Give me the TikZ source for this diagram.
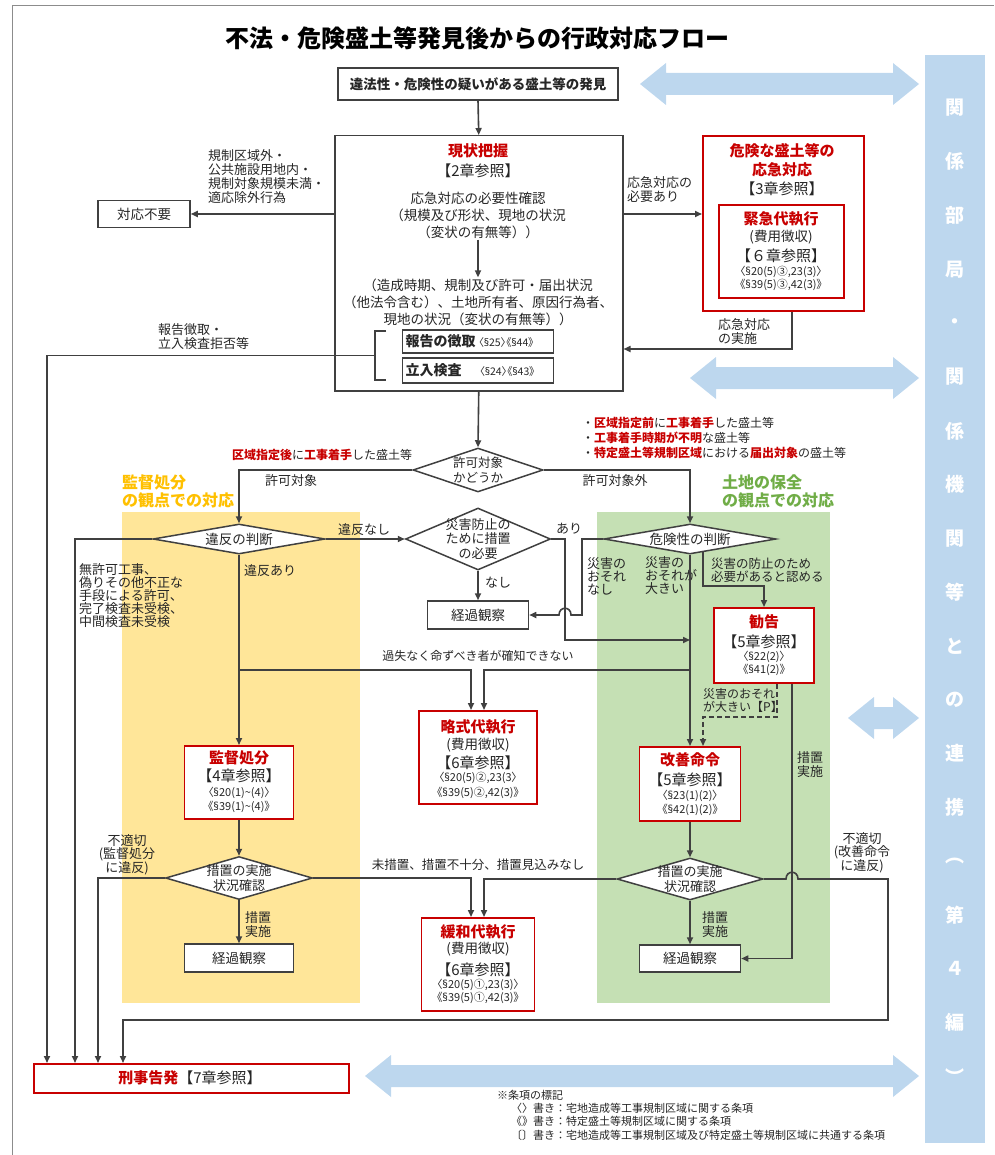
\documentclass[tikz,border=0pt]{standalone}
\usepackage{fontspec}
\setmainfont{Noto Sans CJK JP}
\newfontfamily\latf{Noto Sans}
\usetikzlibrary{shapes.geometric,arrows.meta}
\definecolor{linec}{RGB}{64,64,64}
\definecolor{txtc}{RGB}{38,38,38}
\definecolor{redc}{RGB}{200,0,0}
\definecolor{yelband}{RGB}{255,230,153}
\definecolor{yeltext}{RGB}{255,192,0}
\definecolor{grnband}{RGB}{197,224,180}
\definecolor{grntext}{RGB}{112,173,71}
\definecolor{bluec}{RGB}{189,215,238}
\newcommand{\myfz}[2]{\fontsize{#1}{#2}\selectfont}
\newcommand{\myrb}[1]{\textcolor{redc}{\bfseries #1}}
\newcommand{\sg}{{\latf §}}
\begin{document}
\begin{tikzpicture}[x=1pt,y=-1pt,
  every node/.style={text=txtc, inner sep=1pt},
  ln/.style={draw=linec, line width=1.6pt},
  arr/.style={ln, -{Triangle[length=7pt,width=6pt]}},
  box/.style={draw=linec, line width=1.5pt, fill=white, inner sep=0pt, align=center},
  rbox/.style={draw=redc, line width=1.8pt, fill=white, inner sep=0pt},
  dia/.style={diamond, draw=linec, line width=1.5pt, fill=white, inner sep=0pt},
  t11/.style={font=\myfz{11}{12.5}},
  sec/.style={font=\myfz{11}{12.5}\addfontfeatures{RawFeature=+palt}},
  t12/.style={font=\myfz{12}{13.5}},
  t13/.style={font=\myfz{13}{14}},
  t135/.style={font=\myfz{13.5}{17}},
  t15/.style={font=\myfz{15}{18}},
  rt/.style={font=\bfseries\myfz{15}{18}, text=redc},
  ml/.style={align=left, anchor=west, inner sep=0pt},
  mc/.style={align=center},
]
\useasboundingbox (0,0) rectangle (994,1155);
\draw[black!45, line width=0.8pt] (12,1155) -- (12,5) -- (994,5);

% bands
\fill[yelband] (122,512) rectangle (360,1003);
\fill[grnband] (597,512) rectangle (830,1003);

% right bar and blue arrows
\fill[bluec] (925,55) rectangle (985,1143);
\foreach \xa/\ya in {640/84, 690/378, 848/718, 365/1076} {
  \fill[bluec] (\xa,\ya) -- ({\xa+26},{\ya-21}) -- ({\xa+26},{\ya-11}) -- (893,{\ya-11}) -- (893,{\ya-21})
    -- (919,\ya) -- (893,{\ya+21}) -- (893,{\ya+11}) -- ({\xa+26},{\ya+11}) -- ({\xa+26},{\ya+21}) -- cycle;
}
\foreach \c [count=\i from 0] in {関,係,部,局,・,関,係,機,関,等,と,の,連,携,︵,第,４,編,︶}
  \node[font=\bfseries\myfz{19}{20}, text=white] (bar\i) at (955,{108+\i*53.8}) {\c};

% title
\node[font=\bfseries\myfz{24}{28}, text=black] (title) at (477,38) {不法・危険盛土等発見後からの行政対応フロー};

% top
\node[box, minimum width=280pt, minimum height=32pt, font=\bfseries\myfz{13.5}{16}] (disc) at (478,84) {違法性・危険性の疑いがある盛土等の発見};

% main box
\node[box, minimum width=288pt, minimum height=255pt, anchor=north west] (main) at (334,135) {};
\node[rt] (m1) at (478,151) {現状把握};
\node[t15] (m2) at (478,171) {【2章参照】};
\node[t135, mc] (m3) at (478,215) {応急対応の必要性確認\\（規模及び形状、現地の状況\\（変状の有無等））};
\node[t135, mc] (m4) at (478,302) {（造成時期、規制及び許可・届出状況\\（他法令含む）、土地所有者、原因行為者、\\現地の状況（変状の有無等））};
\node[box, minimum width=151pt, minimum height=23pt, text width=145pt, align=left] (rep) at (478,341.5) {\mbox{\bfseries\myfz{14}{16}報告の徴取\hspace{3pt}{\mdseries\myfz{10.5}{12}\addfontfeatures{RawFeature=+palt}〈\sg25〉《\sg44》}}};
\node[box, minimum width=151pt, minimum height=25pt, text width=145pt, align=left] (insp) at (478,370.5) {\mbox{\bfseries\myfz{14}{16}立入検査\hspace{18pt}{\mdseries\myfz{10.5}{12}\addfontfeatures{RawFeature=+palt}〈\sg24〉《\sg43》}}};
\coordinate (brk) at (375,355.5);

% no need
\node[box, minimum width=92pt, minimum height=27pt, t135] (noneed) at (144,214) {対応不要};
\node[t13, ml] (l2) at (208,177) {規制区域外・\\公共施設用地内・\\規制対象規模未満・\\適応除外行為};
\node[t13, ml] (l1) at (158,337) {報告徴取・\\立入検査拒否等};

% emergency
\node[rbox, minimum width=161pt, minimum height=175pt, anchor=north west] (emerg) at (702,135) {};
\node[rt] (e1) at (782,151) {危険な盛土等の};
\node[rt] (e2) at (782,170) {応急対応};
\node[t15] (e3) at (782,189) {【3章参照】};
\node[rbox, minimum width=125pt, minimum height=93pt, anchor=north west] (exec) at (718,204) {};
\node[rt] (x1) at (781,219) {緊急代執行};
\node[t135] (x2) at (781,237) {(費用徴収)};
\node[t15] (x3) at (781,256) {【６章参照】};
\node[sec] (x4) at (781,272) {〈\sg20(5)③,23(3)〉};
\node[sec] (x5) at (781,285) {《\sg39(5)③,42(3)》};
\node[t13, ml] (l3) at (627,190) {応急対応の\\必要あり};
\node[t13, ml] (l4) at (718,332) {応急対応\\の実施};

% band labels
\node[font=\bfseries\myfz{16}{18}, text=yeltext, ml] (yl) at (122,491) {監督処分\\の観点での対応};
\node[font=\bfseries\myfz{16}{18}, text=grntext, ml] (gl) at (722,491) {土地の保全\\の観点での対応};

% first diamond
\node[dia, minimum width=130pt, minimum height=44pt] (d1) at (478,470) {};
\node[font=\myfz{12.5}{15}, mc] (d1t) at (478,470) {許可対象\\かどうか};
\node[t13] (l5) at (291,481) {許可対象};
\node[t13] (l6) at (615,481) {許可対象外};
\node[t12] (l7) at (322,455) {\myrb{区域指定後}に\myrb{工事着手}した盛土等};
\node[ml, font=\myfz{12}{15}] (l8) at (582,438) {・\myrb{区域指定前}に\myrb{工事着手}した盛土等\\・\myrb{工事着手時期が不明}な盛土等\\・\myrb{特定盛土等規制区域}における\myrb{届出対象}の盛土等};

% second row diamonds
\node[dia, minimum width=172pt, minimum height=30pt] (vio) at (239,539) {};
\node[t135] (viot) at (239,539) {違反の判断};
\node[dia, minimum width=145pt, minimum height=62pt] (dp) at (478,539) {};
\node[font=\myfz{13}{14.5}, mc] (dpt) at (478,539) {災害防止の\\ために措置\\の必要};
\node[dia, minimum width=172pt, minimum height=30pt] (dan) at (690,539) {};
\node[t135] (dant) at (690,539) {危険性の判断};

\node[ml, font=\myfz{13}{13}] (l9) at (79,596) {無許可工事、\\偽りその他不正な\\手段による許可、\\完了検査未受検、\\中間検査未受検};
\node[t13] (l10) at (364,530) {違反なし};
\node[t13, ml] (l11) at (244,571) {違反あり};
\node[t13, ml] (l13) at (556,529) {あり};
\node[t13, ml] (l14) at (485,583) {なし};
\node[box, minimum width=101pt, minimum height=28pt, t135] (ke1) at (478,615) {経過観察};
\node[ml, font=\myfz{13}{13}] (l15) at (587,576) {災害の\\おそれ\\なし};
\node[ml, font=\myfz{13}{13}] (l16) at (645,576) {災害の\\おそれが\\大きい};
\node[ml, font=\myfz{12.5}{13}] (l17) at (711,570) {災害の防止のため\\必要があると認める};
\node[t12] (l12) at (478,656) {過失なく命ずべき者が確知できない};

% kankoku
\node[rbox, minimum width=100pt, minimum height=75pt, anchor=north] (kan) at (764,607) {};
\node[rt] (k1) at (764,622) {勧告};
\node[t15] (k2) at (764,642) {【5章参照】};
\node[sec] (k3) at (764,657) {〈\sg22(2)〉};
\node[sec] (k4) at (764,670) {《\sg41(2)》};
\node[ml, font=\myfz{12}{13}] (l18) at (703,700) {災害のおそれ\\が大きい【P】};
\node[t13, ml] (l19) at (797,765) {措置\\実施};

% ryaku
\node[rbox, minimum width=118pt, minimum height=93pt, anchor=north] (ryaku) at (478,710) {};
\node[rt] (r1) at (478,727) {略式代執行};
\node[t135] (r2) at (478,745) {(費用徴収)};
\node[t15] (r3) at (478,763) {【6章参照】};
\node[sec] (r4) at (478,778) {〈\sg20(5)②,23(3〉};
\node[sec] (r5) at (478,793) {《\sg39(5)②,42(3)》};

% supervise
\node[rbox, minimum width=109pt, minimum height=73pt, anchor=north] (sup) at (239,745) {};
\node[rt] (s1) at (239,758) {監督処分};
\node[t15] (s2) at (239,776) {【4章参照】};
\node[sec] (s3) at (239,793) {〈\sg20(1)\textasciitilde(4)〉};
\node[sec] (s4) at (239,807) {《\sg39(1)\textasciitilde(4)》};

% kaizen
\node[rbox, minimum width=101pt, minimum height=74pt, anchor=north] (kai) at (690,746) {};
\node[rt] (v1) at (690,760) {改善命令};
\node[t15] (v2) at (690,780) {【5章参照】};
\node[sec] (v3) at (690,796) {〈\sg23(1)(2)〉};
\node[sec] (v4) at (690,810) {《\sg42(1)(2)》};

% check diamonds
\node[dia, minimum width=147pt, minimum height=43pt] (chk1) at (239,878) {};
\node[font=\myfz{13}{14.5}, mc] (chk1t) at (239,878) {措置の実施\\状況確認};
\node[dia, minimum width=146pt, minimum height=42pt] (chk2) at (690,879) {};
\node[font=\myfz{13}{14.5}, mc] (chk2t) at (690,879) {措置の実施\\状況確認};
\node[font=\myfz{13}{13}, mc] (l20) at (127,855) {不適切\\(監督処分\\に違反)};
\node[font=\myfz{13}{13}, mc] (l23) at (862,853) {不適切\\(改善命令\\に違反)};
\node[font=\myfz{12.5}{14}] (l21) at (478,865) {未措置、措置不十分、措置見込みなし};
\node[ml, font=\myfz{13}{14}] (l22) at (245,925) {措置\\実施};
\node[ml, font=\myfz{13}{14}] (l24) at (702,925) {措置\\実施};
\node[box, minimum width=109pt, minimum height=28pt, t135] (ke2) at (239,958) {経過観察};
\node[box, minimum width=101pt, minimum height=27pt, t135] (ke3) at (690,958.5) {経過観察};

% kanwa
\node[rbox, minimum width=113pt, minimum height=93pt, anchor=north] (kanwa) at (478,917) {};
\node[rt] (w1) at (478,932) {緩和代執行};
\node[t135] (w2) at (478,949) {(費用徴収)};
\node[t15] (w3) at (478,970) {【6章参照】};
\node[sec] (w4) at (478,985) {〈\sg20(5)①,23(3)〉};
\node[sec] (w5) at (478,998) {《\sg39(5)①,42(3)》};

% criminal
\node[rbox, minimum width=315pt, minimum height=29pt, anchor=north west] (crim) at (33,1063) {};
\node[t15] (crimt) at (190,1077.5) {\myrb{刑事告発}【7章参照】};

% notes
\node[t11, ml] (n0) at (497,1095) {※条項の標記};
\node[t11, ml] (n1) at (511,1108) {〈〉書き：宅地造成等工事規制区域に関する条項};
\node[t11, ml] (n2) at (511,1121) {《》書き：特定盛土等規制区域に関する条項};
\node[t11, ml] (n3) at (511,1135) {〔〕書き：宅地造成等工事規制区域及び特定盛土等規制区域に共通する条項};

% coordinates
\coordinate (j1) at (239,670);
\coordinate (j2) at (690,670);
\coordinate (j3) at (690,640);
\coordinate (j4) at (703,551);

% connectors
\draw[arr] (disc.south) -- (main.north);
\draw[arr] (m3.south) -- (m4.north);
\draw[ln] (386,331) -- (375,331) -- (375,380) -- (386,380);
\draw[arr] (brk) -| ([xshift=14pt]crim.north west);
\draw[arr] (noneed.east -| main.west) -- (noneed.east);
\draw[arr] ([yshift=-79pt]main.north east) -- ([yshift=-79pt]emerg.north west);
\draw[arr] ([xshift=90pt]emerg.south west) |- ([yshift=-214pt]main.north east);
\draw[arr] (main.south) -- (d1.north);
\draw[arr] (d1.west) -| (vio.north);
\draw[arr] (d1.east) -| (dan.north);
\draw[arr] (vio.west) -| ([xshift=42pt]crim.north west);
\draw[arr] (vio.east) -- (dp.west);
\draw[arr] (vio.south) -- (sup.north);
\draw[arr] (j1) -| ([xshift=-7pt]ryaku.north);
\draw[arr] (j2) -| ([xshift=6pt]ryaku.north);
\draw[arr] (dp.east) -| (565,640) -- (j3);
\draw[arr] (dp.south) -- (ke1.north);
\draw[arr] (dan.west) -- (582,539) -- (582,615) -- (571,615) .. controls (571,606) and (559,606) .. (559,615) -- (ke1.east);
\draw[arr] (dan.south) -- (kai.north);
\draw[arr] (j4) -- (703,586) -- (764,586) -- (kan.north);
\draw[arr, dash pattern=on 5pt off 3pt] ([xshift=13pt]kan.south) -- (777,717) -- (703,717) -- ([xshift=13pt]kai.north);
\draw[arr] ([xshift=28pt]kan.south) |- (ke3.east);
\draw[arr] (sup.south) -- (chk1.north);
\draw[arr] (chk1.west) -| ([xshift=65pt]crim.north west);
\draw[arr] (chk1.east) -| ([xshift=-7pt]kanwa.north);
\draw[arr] (chk1.south) -- (ke2.north);
\draw[arr] (kai.south) -- (chk2.north);
\draw[arr] (chk2.west) -| ([xshift=6pt]kanwa.north);
\draw[arr] (chk2.south) -- (ke3.north);
\draw[arr] (chk2.east) -- (786,879) .. controls (786,870) and (798,870) .. (798,879) -- (888,879) -- (888,1020) -- (123,1020) -- ([xshift=90pt]crim.north west);
\end{tikzpicture}
\end{document}
